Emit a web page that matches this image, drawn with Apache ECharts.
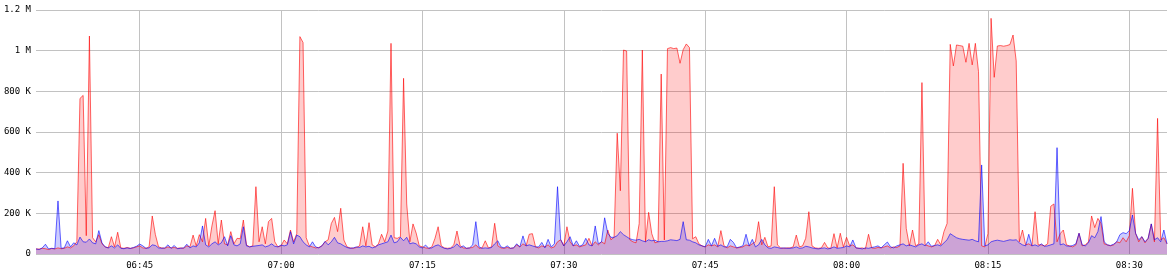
<!DOCTYPE html>
<html><head><meta charset="utf-8">
<script src="https://cdn.jsdelivr.net/npm/echarts@6/dist/echarts.min.js"></script>
<style>html,body{margin:0;padding:0;background:#fff}#chart{width:1170px;height:272px}</style>
</head><body><div id="chart"></div>
<script>
const startTime = '06:34';
const stepSeconds = 20;

// values in thousands (K), one sample every 20 s
const redK = [
25,24,28,26,22,27,25,30,26,28,35,30,40,60,765,780,90,1072,80,60,
95,50,35,30,85,35,107,30,28,32,28,30,35,40,30,28,35,187,95,35,
30,28,35,30,32,28,30,28,40,35,93,40,95,60,175,40,138,213,50,167,
50,45,110,50,77,75,167,45,35,40,331,60,134,50,159,175,60,35,40,69,
50,118,60,100,1069,1040,80,40,35,30,32,40,60,70,150,180,110,225,69,35,
30,28,32,40,134,40,154,45,35,50,97,60,113,1036,80,77,85,864,246,60,
148,103,40,35,30,28,35,77,134,40,30,28,30,45,113,40,30,28,30,32,
45,28,30,65,30,35,151,40,30,28,32,28,30,45,35,50,40,97,100,35,
30,40,35,45,30,35,60,70,40,134,60,40,45,35,40,45,77,40,60,45,
60,50,118,70,82,594,311,1003,998,70,60,55,150,1003,60,205,100,55,60,885,
69,1010,1015,1010,1013,938,1005,1033,1015,75,85,50,40,35,45,40,45,35,115,40,
30,40,35,30,32,35,45,40,50,60,159,45,82,35,40,331,45,30,28,30,
30,35,93,35,40,77,208,40,30,28,30,57,30,28,100,30,102,35,82,40,
45,30,28,30,25,97,30,28,32,30,35,40,30,35,32,40,446,126,40,118,
40,50,843,45,40,35,40,72,45,110,150,1031,925,1028,1025,1022,943,1036,930,1036,
897,40,35,100,1159,869,1023,1025,1022,1025,1030,1077,950,60,118,45,50,40,208,45,
45,40,50,235,246,60,100,118,45,40,35,45,102,40,45,60,187,130,175,150,
50,45,40,45,60,55,80,60,90,323,102,60,85,55,77,148,60,667,69,80,50
];
const blueK = [
25,22,30,48,25,28,26,261,28,30,65,35,55,45,83,60,58,74,55,50,
115,55,35,30,40,30,45,28,26,30,27,32,38,49,40,28,30,45,42,30,
28,30,45,28,42,26,28,30,48,30,40,35,55,138,45,35,50,60,45,55,
85,40,90,45,40,50,134,40,35,38,40,42,45,35,40,50,38,35,44,40,
45,110,50,93,85,60,45,35,60,35,30,40,62,45,60,82,55,50,40,32,
28,30,35,32,40,35,38,30,35,45,50,55,60,93,55,60,82,65,82,50,
55,50,35,30,44,28,30,40,45,35,28,25,28,35,50,32,40,28,30,45,
159,35,28,30,28,32,50,65,35,30,40,28,30,50,35,89,40,45,40,35,
35,57,30,72,35,50,331,72,40,60,85,40,65,38,45,77,45,40,138,50,
60,178,102,82,82,90,110,95,85,75,70,68,72,65,60,70,65,68,60,62,
62,65,70,68,66,72,159,70,68,60,55,45,40,35,72,40,77,38,45,35,
35,72,57,30,35,40,97,40,72,35,45,72,45,30,28,35,32,28,30,28,
28,30,35,28,30,38,35,30,27,25,28,30,25,28,35,28,30,32,40,35,
69,30,28,25,30,28,32,35,40,30,45,59,35,30,40,45,50,40,45,40,
35,45,50,40,60,38,42,45,40,55,70,100,90,80,75,72,70,68,72,65,
60,438,40,45,60,65,68,65,62,66,70,68,70,55,45,40,97,40,45,38,
50,38,40,45,50,523,45,50,40,38,42,50,102,45,40,55,90,80,110,184,
60,45,42,48,60,95,105,100,115,192,102,70,85,60,77,148,70,80,60,118,50
];

const yTickValues = [0, 200, 400, 600, 800, 1000, 1200];
const yTickLabels = ['0', '200 K', '400 K', '600 K', '800 K', '1 M', '1.2 M'];
const xTickLabels = ['06:45', '07:00', '07:15', '07:30', '07:45', '08:00', '08:15', '08:30'];

function pad(n) { return String(n).padStart(2, '0'); }
const [h0, m0] = startTime.split(':').map(Number);
const categories = redK.map((_, i) => {
  const s = h0 * 3600 + m0 * 60 + i * stepSeconds;
  return pad(Math.floor(s / 3600)) + ':' + pad(Math.floor(s / 60) % 60) + ':' + pad(s % 60);
});
const isTick = (idx) => {
  const c = categories[idx];
  return c.endsWith(':00') && xTickLabels.includes(c.slice(0, 5));
};

const mono = 'DejaVu Sans Mono';
const chart = echarts.init(document.getElementById('chart'), null, { renderer: 'canvas' });
chart.setOption({
  animation: false,
  backgroundColor: '#ffffff',
  grid: { left: 36, right: 3, top: 10, bottom: 18, containLabel: false },
  xAxis: {
    type: 'category',
    boundaryGap: false,
    data: categories,
    axisLine: { show: false },
    axisTick: { show: false },
    axisLabel: {
      interval: (i) => isTick(i),
      formatter: (v) => v.slice(0, 5),
      fontFamily: mono, fontSize: 9, color: '#000', margin: 7
    },
    splitLine: { show: true, interval: (i) => isTick(i), lineStyle: { color: '#c2c2c2', width: 1 } }
  },
  yAxis: {
    type: 'value',
    min: 0, max: 1200, interval: 200,
    axisLine: { show: false },
    axisTick: { show: false },
    axisLabel: {
      formatter: (v) => yTickLabels[yTickValues.indexOf(v)],
      fontFamily: mono, fontSize: 9, color: '#000', margin: 5
    },
    splitLine: { show: true, lineStyle: { color: '#c2c2c2', width: 1 } }
  },
  series: [
    {
      name: 'red', type: 'line', data: redK, symbol: 'none', showSymbol: false,
      lineStyle: { color: 'rgba(255,0,0,0.6)', width: 1 },
      itemStyle: { color: 'rgba(255,0,0,0.6)' },
      areaStyle: { color: 'rgba(255,0,0,0.2)', opacity: 1 }
    },
    {
      name: 'blue', type: 'line', data: blueK, symbol: 'none', showSymbol: false,
      lineStyle: { color: 'rgba(0,0,255,0.6)', width: 1 },
      itemStyle: { color: 'rgba(0,0,255,0.6)' },
      areaStyle: { color: 'rgba(0,0,255,0.2)', opacity: 1 }
    }
  ]
});
</script>
</body></html>
